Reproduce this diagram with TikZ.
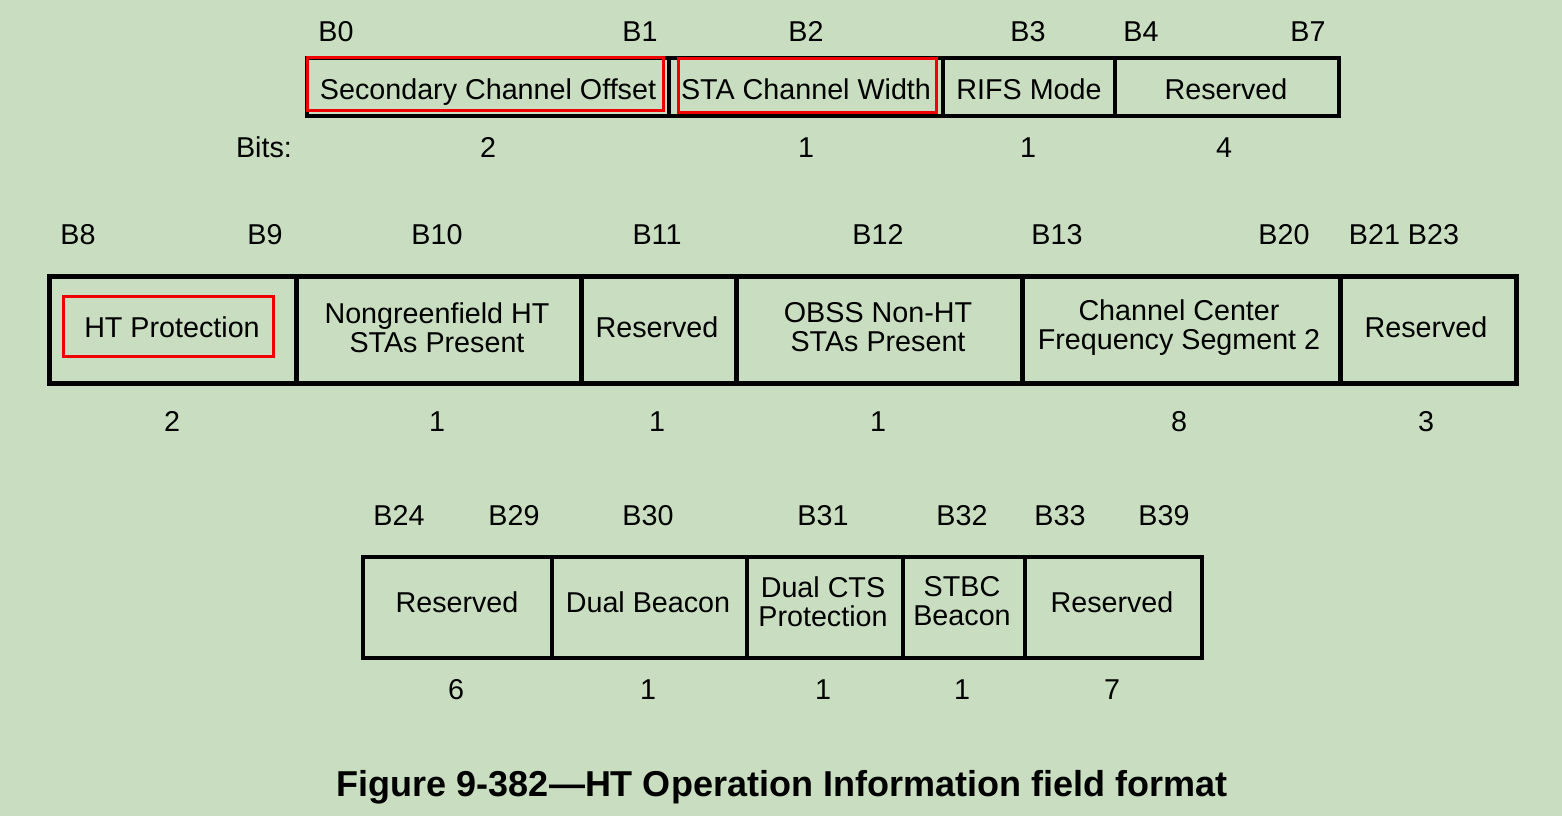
\documentclass[tikz,border=0pt]{standalone}
\usepackage{fontspec}
\setmainfont{Liberation Sans}
\definecolor{bg}{RGB}{201,222,192}
\definecolor{redbox}{RGB}{240,0,0}
% name, x1, x2, ytop, ybottom, line width
\newcommand\fieldcell[6]{%
  \node[cellbox, line width=#6, minimum width={(#3-#2)*0.5pt}, minimum height={(#5-#4)*0.5pt}]
    (#1) at ({(#2+#3)/2},{(#4+#5)/2}) {};}
\newcommand\hilite[5]{%
  \node[hibox, minimum width={(#3-#2)*0.5pt}, minimum height={(#5-#4)*0.5pt}]
    (#1) at ({(#2+#3)/2},{(#4+#5)/2}) {};}
\begin{document}
\begin{tikzpicture}[x=0.5pt,y=-0.5pt,
  cellbox/.style={draw=black,inner sep=0pt},
  hibox/.style={draw=redbox,line width=1.5pt,inner sep=0pt},
  one/.style={inner sep=0pt,text height=10.3pt,text depth=0pt,
    font=\fontsize{14.35}{14.6}\selectfont},
  two/.style={inner sep=0pt,align=center,
    font=\fontsize{14.35}{14.6}\selectfont},
  lbl/.style={one},
  ttl/.style={inner sep=0pt,text height=12.9pt,text depth=0pt,
    font=\fontsize{18}{20}\selectfont\bfseries}]
\fill[bg] (0,0) rectangle (1562,816);
\useasboundingbox (0,0) rectangle (1562,816);

% Row 1
\fieldcell{sco}{307}{669}{58}{116}{2.2pt}
\fieldcell{sta}{669}{943}{58}{116}{2.2pt}
\fieldcell{rifs}{943}{1115}{58}{116}{2.2pt}
\fieldcell{resa}{1115}{1339}{58}{116}{2.2pt}
\hilite{hsco}{307}{663}{57}{110}
\hilite{hsta}{678}{936}{58}{112}
\node[one] (tsco) at (488,89) {Secondary Channel Offset};
\node[one] (tsta) at (806,89) {STA Channel Width};
\node[one] (trifs) at (1029,89) {RIFS Mode};
\node[one] (tresa) at (1226,89) {Reserved};

\node[lbl] (b0) at (336,31) {B0};
\node[lbl] (b1) at (640,31) {B1};
\node[lbl] (b2) at (806,31) {B2};
\node[lbl] (b3) at (1028,31) {B3};
\node[lbl] (b4) at (1141,31) {B4};
\node[lbl] (b7) at (1308,31) {B7};

\node[lbl] (bits) at (264,147) {Bits:};
\node[lbl] (n1a) at (488,147) {2};
\node[lbl] (n1b) at (806,147) {1};
\node[lbl] (n1c) at (1028,147) {1};
\node[lbl] (n1d) at (1224,147) {4};

% Row 2
\fieldcell{htp}{49}{296}{276}{383}{2.5pt}
\fieldcell{ngf}{296}{581}{276}{383}{2.5pt}
\fieldcell{resb}{581}{736}{276}{383}{2.5pt}
\fieldcell{obss}{736}{1022}{276}{383}{2.5pt}
\fieldcell{ccf}{1022}{1340}{276}{383}{2.5pt}
\fieldcell{resc}{1340}{1516}{276}{383}{2.5pt}
\hilite{hhtp}{63}{273}{296}{356}
\node[one] (thtp) at (172,327) {HT Protection};
\node[two] (tngf) at (437,327.5) {Nongreenfield HT\\STAs Present};
\node[one] (tresb) at (657,327) {Reserved};
\node[two] (tobss) at (878,327.5) {OBSS Non-HT\\STAs Present};
\node[two] (tccf) at (1179,327.5) {Channel Center\\Frequency Segment 2};
\node[one] (tresc) at (1426,327) {Reserved};

\node[lbl] (b8) at (78,234) {B8};
\node[lbl] (b9) at (265,234) {B9};
\node[lbl] (b10) at (437,234) {B10};
\node[lbl] (b11) at (657,234) {B11};
\node[lbl] (b12) at (878,234) {B12};
\node[lbl] (b13) at (1057,234) {B13};
\node[lbl] (b20) at (1284,234) {B20};
\node[lbl] (b21) at (1404,234) {B21 B23};

\node[lbl] (n2a) at (172,421) {2};
\node[lbl] (n2b) at (437,421) {1};
\node[lbl] (n2c) at (657,421) {1};
\node[lbl] (n2d) at (878,421) {1};
\node[lbl] (n2e) at (1179,421) {8};
\node[lbl] (n2f) at (1426,421) {3};

% Row 3
\fieldcell{resd}{363}{552}{557}{658}{2.3pt}
\fieldcell{dbc}{552}{747}{557}{658}{2.3pt}
\fieldcell{dcts}{747}{903}{557}{658}{2.3pt}
\fieldcell{stbc}{903}{1025}{557}{658}{2.3pt}
\fieldcell{rese}{1025}{1202}{557}{658}{2.3pt}
\node[one] (tresd) at (457,602) {Reserved};
\node[one] (tdbc) at (648,602) {Dual Beacon};
\node[two] (tdcts) at (823,601.5) {Dual CTS\\Protection};
\node[two] (tstbc) at (962,601.5) {STBC\\Beacon};
\node[one] (trese) at (1112,602) {Reserved};

\node[lbl] (b24) at (399,515) {B24};
\node[lbl] (b29) at (514,515) {B29};
\node[lbl] (b30) at (648,515) {B30};
\node[lbl] (b31) at (823,515) {B31};
\node[lbl] (b32) at (962,515) {B32};
\node[lbl] (b33) at (1060,515) {B33};
\node[lbl] (b39) at (1164,515) {B39};

\node[lbl] (n3a) at (456,689) {6};
\node[lbl] (n3b) at (648,689) {1};
\node[lbl] (n3c) at (823,689) {1};
\node[lbl] (n3d) at (962,689) {1};
\node[lbl] (n3e) at (1112,689) {7};

\node[ttl] (title) at (782,784) {Figure 9-382—HT Operation Information field format};
\end{tikzpicture}
\end{document}
